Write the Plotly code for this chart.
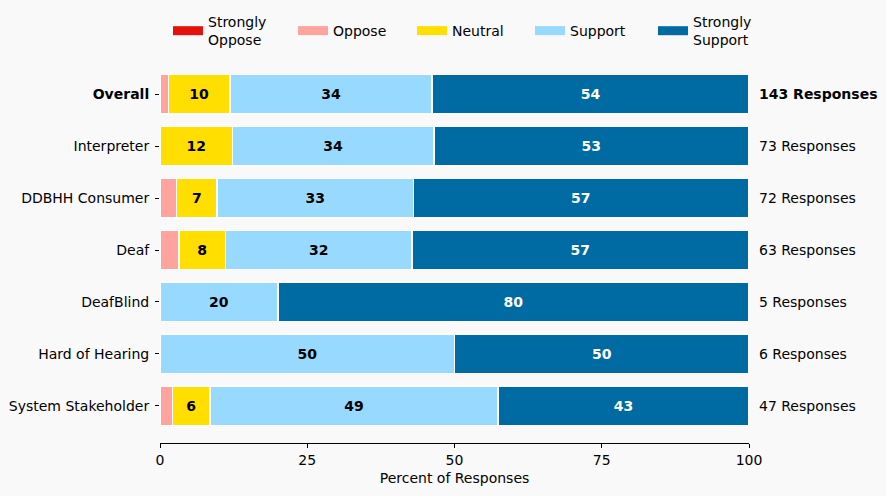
import plotly.graph_objects as go

categories = ["Overall", "Interpreter", "DDBHH Consumer", "Deaf", "DeafBlind",
              "Hard of Hearing", "System Stakeholder"]
responses = [143, 73, 72, 63, 5, 6, 47]

strongly_oppose = [0, 0, 0, 0, 0, 0, 0]
oppose = [1.4, 0, 2.8, 3.2, 0, 0, 2.1]
neutral = [10.5, 12.3, 6.9, 7.9, 0, 0, 6.4]
support = [34.3, 34.2, 33.3, 31.7, 20, 50, 48.9]
strongly_support = [53.8, 53.4, 56.9, 57.1, 80, 50, 42.6]

series_names = ["Strongly<br>Oppose", "Oppose", "Neutral", "Support", "Strongly<br>Support"]
series_values = [strongly_oppose, oppose, neutral, support, strongly_support]
series_colors = ["#E3120B", "#FFA39F", "#FFDE00", "#98DAFF", "#006BA2"]
text_colors = ["black", "black", "black", "black", "white"]
legend_left_px = [173, 298, 417, 535, 658]

font = "DejaVu Sans"
W, H = 886, 496
fig = go.Figure()
legend_layout = {}
for i, (name, vals, color, tcolor, lx) in enumerate(
        zip(series_names, series_values, series_colors, text_colors, legend_left_px)):
    fig.add_trace(go.Bar(
        y=categories, x=vals, name=name, orientation="h",
        marker=dict(color=color, line=dict(color="white", width=1.5)),
        width=0.76, showlegend=False,
        text=[f"{round(v)}" if v >= 5 else "" for v in vals],
        textposition="inside", insidetextanchor="middle", textangle=0,
        constraintext="none",
        textfont=dict(family=font, size=14, color=tcolor, weight="bold"),
        hoverinfo="skip",
    ))
    leg = "legend" if i == 0 else f"legend{i + 1}"
    fig.add_trace(go.Scatter(
        x=[None], y=[None], mode="lines", name=name, legend=leg,
        line=dict(color=color, width=9), showlegend=True, hoverinfo="skip",
    ))
    legend_layout[leg] = dict(
        orientation="h", xref="container", yref="container",
        x=(lx - 5) / W, xanchor="left", y=1 - 31 / H, yanchor="middle",
        font=dict(family=font, size=14), bgcolor="rgba(0,0,0,0)")

for cat, n in zip(categories, responses):
    fig.add_annotation(
        x=1.014, xref="paper", y=cat, yref="y", xanchor="left",
        text=(f"<b>{n} Responses</b>" if cat == "Overall" else f"{n} Responses"),
        showarrow=False, font=dict(family=font, size=14, color="black"),
    )

ticktext = [f"<b>{c}</b>" if c == "Overall" else c for c in categories]

fig.update_layout(
    barmode="stack",
    width=W, height=H,
    margin=dict(l=160, r=137, t=57, b=53, autoexpand=False),
    paper_bgcolor="#F9F9F9", plot_bgcolor="#F9F9F9",
    font=dict(family=font, size=14, color="black"),
    bargap=0.24,
    xaxis=dict(range=[0, 100], tickvals=[0, 25, 50, 75, 100], showgrid=False,
               zeroline=False, showline=True, linecolor="black", linewidth=1,
               ticks="outside", ticklen=4, tickcolor="black",
               title=dict(text="Percent of Responses", font=dict(size=14), standoff=6)),
    yaxis=dict(categoryorder="array", categoryarray=categories,
               autorange=False, range=[6.72, -0.72],
               tickvals=categories, ticktext=ticktext,
               showgrid=False, zeroline=False, showline=False,
               ticks="outside", ticklen=4, tickcolor="black", ticklabelstandoff=3),
    **legend_layout,
)

fig.write_html("out.html", config={"displayModeBar": False},
               post_script="document.body.style.margin='0';"
                           "document.body.style.background='#F9F9F9';")
